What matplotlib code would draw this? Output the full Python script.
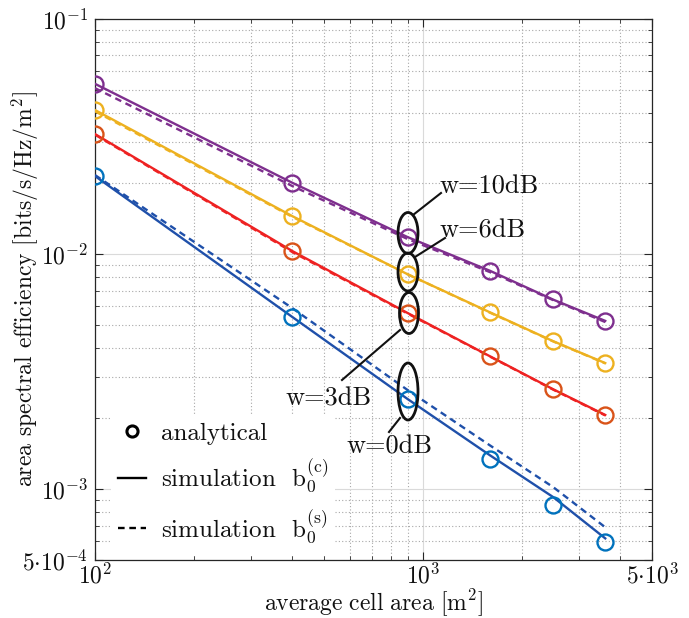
import matplotlib
matplotlib.use('Agg')
import matplotlib.pyplot as plt
from matplotlib.patches import Ellipse
from matplotlib.lines import Line2D
import matplotlib.ticker as mticker

plt.rcParams.update({
    'font.family': 'serif',
    'font.serif': ['cmr10'],
    'mathtext.fontset': 'cm',
    'axes.unicode_minus': False,
    'axes.formatter.use_mathtext': True,
})

# ---------------- data ----------------
cell_area = [100, 400, 900, 1600, 2500, 3600]

ana_w10 = [0.0529, 0.02005, 0.01181, 0.00847, 0.00643, 0.00519]
ana_w6 = [0.0410, 0.01451, 0.00822, 0.00566, 0.00426, 0.00344]
ana_w3 = [0.0324, 0.0103, 0.00561, 0.00368, 0.00266, 0.00207]
ana_w0 = [0.02148, 0.0054, 0.002415, 0.001342, 0.000855, 0.000595]

simc_w10 = [0.0530, 0.0201, 0.0118, 0.0085, 0.0064, 0.0052]
simc_w6 = [0.0410, 0.0145, 0.0082, 0.00566, 0.00426, 0.00344]
simc_w3 = [0.0324, 0.0103, 0.00561, 0.00368, 0.00266, 0.00207]
simc_w0 = [0.02148, 0.0054, 0.002415, 0.001396, 0.000925, 0.000618]

sims_w10 = [0.0508, 0.01947, 0.01158, 0.00839, 0.00637, 0.00514]
sims_w6 = [0.0405, 0.0144, 0.0082, 0.00564, 0.00425, 0.00343]
sims_w3 = [0.0322, 0.0102, 0.00558, 0.00367, 0.00265, 0.00206]
sims_w0 = [0.02169, 0.00589, 0.002637, 0.001538, 0.00102, 0.000689]

series_labels = ['w=10dB', 'w=6dB', 'w=3dB', 'w=0dB']
x_ticks = [100, 1000, 5000]
x_ticklabels = [r'$10^{2}$', r'$10^{3}$', r'$5{\cdot}10^{3}$']
y_ticks = [5e-4, 1e-3, 1e-2, 1e-1]
y_ticklabels = [r'$5{\cdot}10^{-4}$', r'$10^{-3}$', r'$10^{-2}$', r'$10^{-1}$']

# ---------------- style ----------------
W, H = 689, 618
AX_L, AX_R, AX_T, AX_B = 95, 652, 19, 560

ana = [ana_w10, ana_w6, ana_w3, ana_w0]
simc = [simc_w10, simc_w6, simc_w3, simc_w0]
sims = [sims_w10, sims_w6, sims_w3, sims_w0]
line_colors = ['#7E2F8E', '#EDB120', '#EE2222', '#1F50AA']
marker_colors = ['#7E2F8E', '#EDB120', '#D95319', '#0072BD']

fig = plt.figure(figsize=(W / 100, H / 100), dpi=100)
ax = fig.add_axes([AX_L / W, (H - AX_B) / H, (AX_R - AX_L) / W, (AX_B - AX_T) / H])
ax.set_xscale('log')
ax.set_yscale('log')

dash = (0, (2.8, 2))
for a, c, s, lc, mc in zip(ana, simc, sims, line_colors, marker_colors):
    ax.plot(cell_area, c, color=lc, lw=1.7, zorder=3)
    ax.plot(cell_area, s, color=lc, lw=1.7, ls=dash, zorder=3)
    ax.plot(cell_area, a, ls='none', marker='o', ms=11.5, mfc='none', mec=mc, mew=1.7, zorder=4)

ax.set_xlim(100, 5000)
ax.set_ylim(5e-4, 0.1)

ax.xaxis.set_major_locator(mticker.FixedLocator(x_ticks))
ax.xaxis.set_major_formatter(mticker.FixedFormatter(x_ticklabels))
ax.yaxis.set_major_locator(mticker.FixedLocator(y_ticks))
ax.yaxis.set_major_formatter(mticker.FixedFormatter(y_ticklabels))
ax.xaxis.set_minor_locator(mticker.LogLocator(base=10, subs=range(2, 10), numticks=20))
ax.yaxis.set_minor_locator(mticker.LogLocator(base=10, subs=range(2, 10), numticks=20))
ax.xaxis.set_minor_formatter(mticker.NullFormatter())
ax.yaxis.set_minor_formatter(mticker.NullFormatter())

ax.tick_params(which='both', direction='in', top=True, right=True, colors='#262626',
               labelcolor='#111111', labelsize=17, pad=5)
ax.tick_params(axis='x', which='both', pad=2)
ax.tick_params(which='major', length=6, width=0.8)
ax.tick_params(which='minor', length=3, width=0.6)

ax.grid(True, which='major', color='#DADADA', lw=0.8, ls='-', zorder=0)
ax.grid(True, which='minor', color='#A8A8A8', lw=0.8, ls=(0, (1, 2)), zorder=0)
ax.set_axisbelow(True)
for sp in ax.spines.values():
    sp.set_color('#262626')
    sp.set_linewidth(0.9)

ax.set_xlabel(r'$\mathrm{average\ cell\ area\ [m^2]}$', fontsize=17, color='#111111',
              va='baseline')
ax.set_ylabel(r'area spectral efficiency [bits/s/Hz/m$^2$]', fontsize=17, color='#111111')
ax.xaxis.set_label_coords(0.5, (AX_B - 611) / (AX_B - AX_T))
ax.yaxis.set_label_coords((41 - AX_L) / (AX_R - AX_L), 0.5)

# legend
handles = [
    Line2D([], [], ls='none', marker='o', ms=8, mfc='none', mec='k', mew=2.2),
    Line2D([], [], color='k', lw=1.7),
    Line2D([], [], color='k', lw=1.7, ls=dash),
]
labels = ['analytical',
          r'simulation  $\mathrm{b}_0^{(\mathrm{c})}$',
          r'simulation  $\mathrm{b}_0^{(\mathrm{s})}$']
leg = ax.legend(handles, labels, loc='lower left', bbox_to_anchor=(0.028, 0.012),
                frameon=True, fancybox=False, edgecolor='none', facecolor='white', framealpha=1,
                fontsize=18, handlelength=1.1, handletextpad=0.6, labelspacing=0.52,
                borderpad=0.3, borderaxespad=0)
for t in leg.get_texts():
    t.set_color('#111111')


def frac(px, py):
    return ((px - AX_L) / (AX_R - AX_L), (AX_B - py) / (AX_B - AX_T))


# annotations: ellipse (center px, width px, height px), connector line, text
ellipses = [((408, 233), 20, 41), ((408, 272), 20, 38), ((409, 313), 19, 41), ((408, 391.5), 20, 57)]
connectors = [((413, 215), (441, 193)), ((415, 257), (445, 238)),
              ((400, 330), (342, 380)), ((400, 418), (389, 432))]
text_pos = [((439, 193), 'left'), ((439, 238), 'left'), ((372, 406), 'right'), ((346, 453), 'left')]

for (cen, ew, eh), (p0, p1), ((tx, ty), ha), lab in zip(ellipses, connectors, text_pos, series_labels):
    cx, cy = frac(*cen)
    e = Ellipse((cx, cy), ew / (AX_R - AX_L), eh / (AX_B - AX_T), transform=ax.transAxes,
                fill=False, ec='#111111', lw=2.0, zorder=6)
    ax.add_patch(e)
    x0, y0 = frac(*p0)
    x1, y1 = frac(*p1)
    ax.plot([x0, x1], [y0, y1], transform=ax.transAxes, color='#111111', lw=1.5, zorder=6)
    fx, fy = frac(tx, ty)
    ax.text(fx, fy, lab, transform=ax.transAxes, ha=ha, va='baseline', fontsize=19,
            color='#111111', zorder=7)

fig.savefig('out.png', dpi=100)
